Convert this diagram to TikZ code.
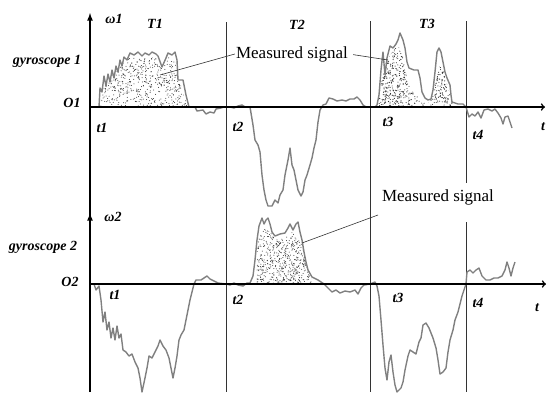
\documentclass[tikz,border=0pt]{standalone}
\usepackage{fontspec}
\setmainfont{Liberation Serif}

\tikzset{
  lbl/.style={font=\fontsize{14}{16}\selectfont\bfseries\itshape, inner sep=0pt},
  msg/.style={font=\fontsize{17}{20}\selectfont, inner sep=1pt},
  sig/.style={draw=gray, line width=1.4pt, line join=round},
  sep/.style={line width=0.7pt, black!80},
  axis/.style={line width=1.6pt},
  pin/.style={line width=0.6pt, black!80},
  dots/.style={fill=black!80}
}

\begin{document}
\begin{tikzpicture}[x=1pt,y=-1pt]
\useasboundingbox (0,0) rectangle (547,392);
\pgfmathsetseed{11}

% interval borders
\draw[sep] (226,22) -- (226,392);
\draw[sep] (370,21) -- (370,392);
\draw[sep] (466,21) -- (466,183);
\draw[sep] (466,222) -- (466,392);

% stippled parts of the signals
\begin{scope}
\clip (100,107) -- (103,90) -- (108,80) -- (115,72) -- (122,64) -- (128,58) -- (140,57) -- (155,57) -- (162,68) -- (168,57) -- (175,60) -- (179,80) -- (186,100) -- (188,107) -- cycle;
\foreach \k in {1,...,650} \fill[dots] ({100+90*rnd},{55+52*rnd}) circle (0.5pt);
\end{scope}
\begin{scope}
\clip (378,107) -- (381,85) -- (385,65) -- (390,55) -- (398,45) -- (404,60) -- (407,80) -- (412,90) -- (418,96) -- (422,101) -- (428,104) -- (432,95) -- (436,80) -- (440,66) -- (444,72) -- (448,88) -- (452,100) -- (455,107) -- cycle;
\foreach \k in {1,...,1000} \fill[dots] ({378+78*rnd},{44+63*rnd}) circle (0.55pt);
\end{scope}
\begin{scope}
\clip (256,284) -- (258,240) -- (262,228) -- (270,232) -- (278,240) -- (286,236) -- (292,232) -- (298,236) -- (302,246) -- (306,262) -- (310,276) -- (314,284) -- cycle;
\foreach \k in {1,...,650} \fill[dots] ({256+58*rnd},{228+56*rnd}) circle (0.5pt);
\end{scope}

% gyroscope 1
\draw[sig] (90,107) -- (99,107) -- (100,88) -- (102,92) -- (104,76) -- (106,86) -- (108,74) -- (110,82) -- (112,70) -- (114,78) -- (116,66) -- (118,72) -- (120,60) -- (122,66) -- (124,57) -- (127,60) -- (130,53) -- (134,55) -- (138,52) -- (142,56) -- (145,53) -- (149,55) -- (152,52) -- (156,54) -- (158,56) -- (162,67) -- (166,58) -- (168,53) -- (172,55) -- (175,52) -- (177,60) -- (178,80) -- (183,80) -- (186,95) -- (189,107) -- (195,107) -- (197,111) -- (203,110) -- (206,114) -- (210,112) -- (214,113) -- (216,109) -- (221,108) -- (224,107) -- (230,107) -- (234,108) -- (238,106) -- (242,105) -- (245,107) -- (250,107) -- (253,125) -- (255,140) -- (258,145) -- (260,152) -- (262,175) -- (264,190) -- (266,200) -- (268,206) -- (272,206) -- (275,200) -- (278,203) -- (280,195) -- (283,190) -- (285,175) -- (288,160) -- (290,148) -- (292,165) -- (294,170) -- (296,180) -- (298,190) -- (301,196) -- (303,192) -- (305,180) -- (307,175) -- (310,165) -- (312,158) -- (314,148) -- (316,140) -- (318,122) -- (320,110) -- (323,105) -- (326,104) -- (329,98) -- (333,99) -- (337,101) -- (342,100) -- (346,101) -- (350,99) -- (354,99) -- (357,97) -- (360,100) -- (363,105) -- (366,107) -- (375,107) -- (377,105) -- (379,95) -- (381,70) -- (383,52) -- (385,75) -- (387,58) -- (390,46) -- (393,48) -- (396,44) -- (398,40) -- (400,33) -- (403,40) -- (405,48) -- (407,62) -- (409,68) -- (414,70) -- (418,70) -- (420,78) -- (422,92) -- (425,98) -- (428,100) -- (431,99) -- (433,90) -- (435,72) -- (437,52) -- (439,48) -- (441,52) -- (443,62) -- (445,72) -- (447,78) -- (450,85) -- (451,95) -- (452,102) -- (458,104) -- (463,104) -- (466,107) -- (469,117) -- (472,114) -- (475,116) -- (478,112) -- (481,118) -- (484,110) -- (488,109) -- (492,111) -- (495,109) -- (498,113) -- (501,118) -- (503,124) -- (505,117) -- (508,116) -- (510,122) -- (512,128);

% gyroscope 2
\draw[sig] (90,284) -- (94,284) -- (96,290) -- (99,286) -- (101,300) -- (103,322) -- (105,312) -- (107,330) -- (109,322) -- (111,338) -- (113,328) -- (115,340) -- (117,326) -- (119,338) -- (121,334) -- (123,350) -- (126,352) -- (129,356) -- (132,354) -- (135,362) -- (138,368) -- (140,378) -- (142,392) -- (145,378) -- (147,368) -- (149,356) -- (152,358) -- (155,352) -- (158,346) -- (160,340) -- (163,346) -- (166,350) -- (169,358) -- (171,368) -- (173,378) -- (175,368) -- (177,356) -- (179,340) -- (181,335) -- (184,330) -- (186,320) -- (188,310) -- (190,300) -- (192,292) -- (194,284) -- (196,280) -- (201,280) -- (204,278) -- (207,276) -- (210,279) -- (214,281) -- (218,283) -- (226,284) -- (230,285) -- (234,283) -- (238,285) -- (243,286) -- (247,283) -- (250,283) -- (253,276) -- (255,260) -- (257,240) -- (259,226) -- (262,218) -- (264,224) -- (266,220) -- (268,218) -- (270,224) -- (272,232) -- (275,236) -- (280,234) -- (285,233) -- (288,228) -- (290,224) -- (293,230) -- (296,224) -- (298,222) -- (300,232) -- (302,240) -- (304,252) -- (306,262) -- (308,270) -- (312,277) -- (318,280) -- (324,284) -- (328,288) -- (332,292) -- (336,290) -- (340,293) -- (345,291) -- (350,292) -- (355,290) -- (358,294) -- (361,288) -- (364,285) -- (370,284) -- (375,282) -- (377,286) -- (379,296) -- (381,320) -- (383,345) -- (385,368) -- (387,380) -- (389,362) -- (391,355) -- (393,372) -- (395,385) -- (397,392) -- (401,388) -- (403,382) -- (405,370) -- (408,356) -- (410,350) -- (413,352) -- (416,354) -- (419,342) -- (421,338) -- (423,325) -- (426,323) -- (429,328) -- (431,333) -- (433,338) -- (436,348) -- (438,360) -- (440,374) -- (443,372) -- (446,368) -- (448,352) -- (450,340) -- (453,330) -- (455,320) -- (458,312) -- (460,304) -- (462,296) -- (464,290) -- (466,284) -- (467,272) -- (470,270) -- (473,273) -- (476,270) -- (479,268) -- (482,276) -- (486,280) -- (490,280) -- (494,278) -- (498,278) -- (502,276) -- (505,270) -- (507,262) -- (509,268) -- (511,276) -- (513,268) -- (515,262);

% axes
\draw[axis,-latex] (90,392) -- (90,13);
\draw[axis,-latex] (90,284) -- (90,213);
\draw[axis,->] (90,107) -- (545,107);
\draw[axis,->] (90,284) -- (546,284);

% labels
\node[lbl] (w1) at (114,19) {ω1};
\node[lbl] (T1) at (155,24) {T1};
\node[lbl] (T2) at (297,25) {T2};
\node[lbl] (T3) at (427,24) {T3};
\node[lbl] (g1) at (47,61) {gyroscope 1};
\node[lbl] (O1) at (72,103) {O1};
\node[lbl] (t11) at (102,128) {t1};
\node[lbl] (t12) at (238,127) {t2};
\node[lbl] (t13) at (388,122) {t3};
\node[lbl] (t14) at (478,135) {t4};
\node[lbl] (ta) at (543,127) {t};

\node[lbl] (w2) at (113,217) {ω2};
\node[lbl] (g2) at (43,247) {gyroscope 2};
\node[lbl] (O2) at (70,282) {O2};
\node[lbl] (t21) at (115,295) {t1};
\node[lbl] (t22) at (238,300) {t2};
\node[lbl] (t23) at (398,298) {t3};
\node[lbl] (t24) at (478,303) {t4};
\node[lbl] (tb) at (537,308) {t};

% measured signal notes
\node[msg] (ms1) at (292,54) {Measured signal};
\node[msg] (ms2) at (438,197) {Measured signal};
\coordinate (p1) at (160,75);
\coordinate (p2) at (388,60);
\coordinate (p3) at (302,243);
\coordinate (q3) at (378,215);
\draw[pin] (p1) -- (ms1.west);
\draw[pin, shorten <=4pt] (ms1.east) -- (p2);
\draw[pin] (p3) -- (q3);
\end{tikzpicture}
\end{document}
